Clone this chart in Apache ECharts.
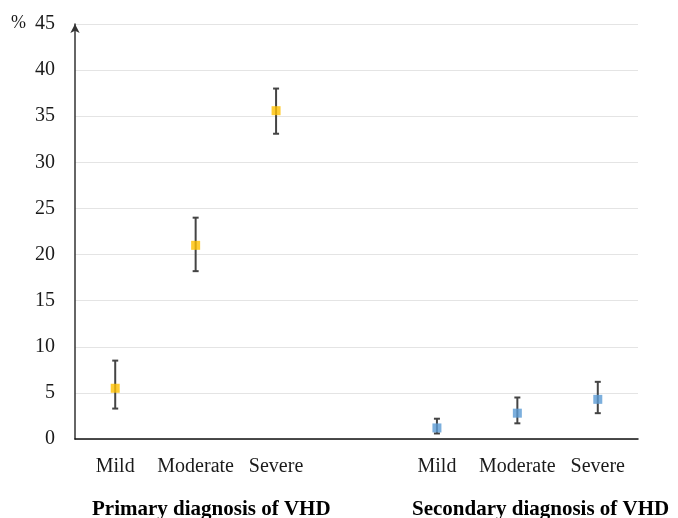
<!DOCTYPE html>
<html>
<head>
<meta charset="utf-8">
<script src="https://cdn.jsdelivr.net/npm/echarts@6/dist/echarts.min.js"></script>
<style>html,body{margin:0;padding:0;background:#fff}#c{width:678px;height:518px}</style>
</head>
<body>
<div id="c"></div>
<script>
const categories = ['Mild', 'Moderate', 'Severe', '', 'Mild', 'Moderate', 'Severe'];
const yTicks = [0, 5, 10, 15, 20, 25, 30, 35, 40, 45];
const groupTitles = ['Primary diagnosis of VHD', 'Secondary diagnosis of VHD'];

const primaryValues = [5.5, 21.0, 35.6];
const primaryLower = [3.3, 18.2, 33.1];
const primaryUpper = [8.5, 24.0, 38.0];

const secondaryValues = [1.2, 2.8, 4.3];
const secondaryLower = [0.6, 1.7, 2.8];
const secondaryUpper = [2.2, 4.5, 6.2];

const primaryIdx = [0, 1, 2];
const secondaryIdx = [4, 5, 6];

function pts(idx, vals) { return idx.map((i, k) => [i, vals[k]]); }
function errs(idx, lo, hi) { return idx.map((i, k) => [i, lo[k], hi[k]]); }

const errData = errs(primaryIdx, primaryLower, primaryUpper).concat(errs(secondaryIdx, secondaryLower, secondaryUpper));

const chart = echarts.init(document.getElementById('c'), null, {renderer: 'canvas'});
const serif = '"Liberation Serif", "Times New Roman", serif';
chart.setOption({
  animation: false,
  grid: {left: 75, right: 40, top: 24, bottom: 79, containLabel: false},
  xAxis: {
    type: 'category',
    data: categories,
    axisLine: {lineStyle: {color: '#111', width: 1.5}},
    axisTick: {show: false},
    axisLabel: {color: '#1a1a1a', fontFamily: serif, fontSize: 20, margin: 18, interval: 0},
    splitLine: {show: false}
  },
  yAxis: {
    type: 'value',
    min: yTicks[0], max: yTicks[yTicks.length - 1], interval: 5,
    axisLine: {show: true, lineStyle: {color: '#333', width: 1.5}, symbol: ['none', 'arrow'], symbolSize: [7, 9]},
    axisTick: {show: false},
    axisLabel: {color: '#1a1a1a', fontFamily: serif, fontSize: 20, margin: 20, padding: [3, 0, 0, 0]},
    splitLine: {lineStyle: {color: '#e4e4e4', width: 1.2}}
  },
  graphic: [
    {type: 'text', left: 11, top: 14, style: {text: '%', font: '18px ' + serif, fill: '#1a1a1a'}},
    {type: 'text', left: 92, top: 499, style: {text: groupTitles[0], font: 'bold 21px ' + serif, fill: '#000'}},
    {type: 'text', left: 412, top: 499, style: {text: groupTitles[1], font: 'bold 21px ' + serif, fill: '#000'}}
  ],
  series: [
    {
      type: 'custom',
      z: 1,
      data: errData,
      renderItem: function (params, api) {
        const x = api.value(0);
        const lo = api.coord([x, api.value(1)]);
        const hi = api.coord([x, api.value(2)]);
        const cw = 3;
        const st = {stroke: '#444', lineWidth: 2};
        return {type: 'group', children: [
          {type: 'line', shape: {x1: lo[0], y1: lo[1], x2: hi[0], y2: hi[1]}, style: st},
          {type: 'line', shape: {x1: lo[0] - cw, y1: lo[1], x2: lo[0] + cw, y2: lo[1]}, style: st},
          {type: 'line', shape: {x1: hi[0] - cw, y1: hi[1], x2: hi[0] + cw, y2: hi[1]}, style: st}
        ]};
      }
    },
    {type: 'scatter', z: 3, symbol: 'rect', symbolSize: 9, itemStyle: {color: '#FFC000'}, data: pts(primaryIdx, primaryValues)},
    {type: 'scatter', z: 3, symbol: 'rect', symbolSize: 9, itemStyle: {color: '#5B9BD5'}, data: pts(secondaryIdx, secondaryValues)}
  ]
});
</script>
</body>
</html>
